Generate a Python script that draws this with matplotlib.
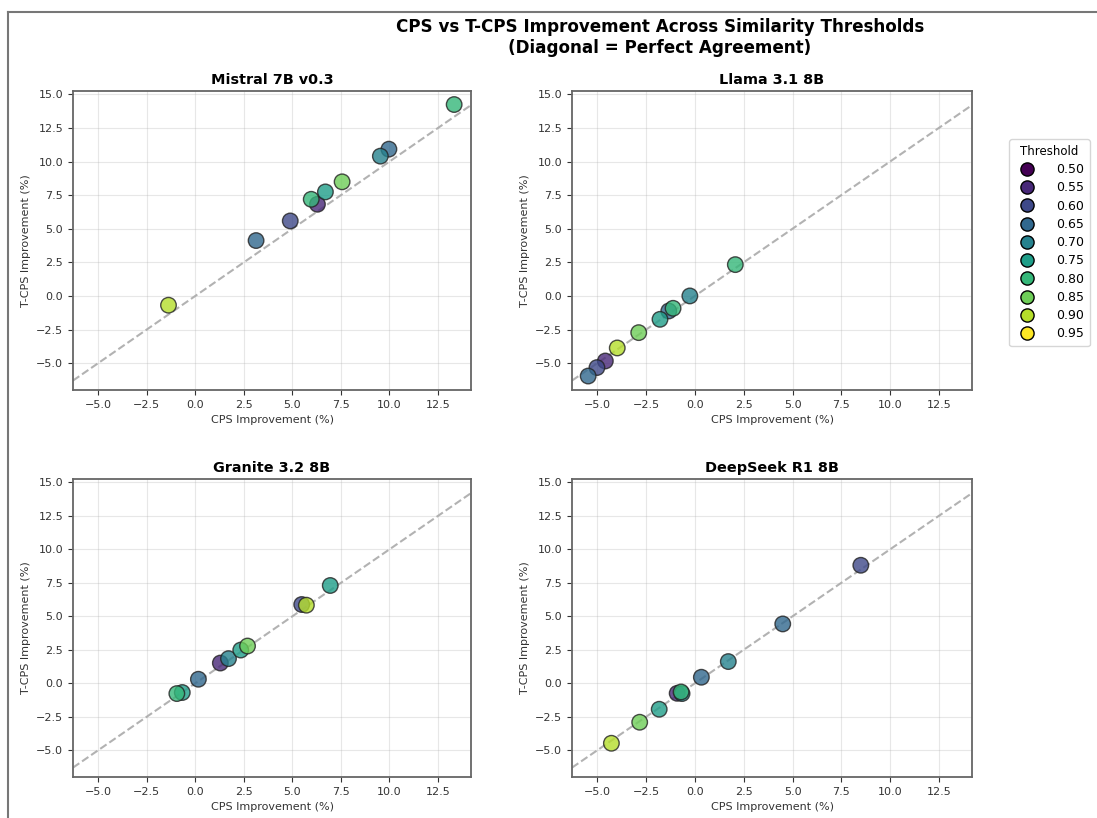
import numpy as np
import matplotlib
matplotlib.use("Agg")
import matplotlib.pyplot as plt
from matplotlib.lines import Line2D

# Umbrales de similitud (leyenda)
thresholds = [0.50, 0.55, 0.60, 0.65, 0.70, 0.75, 0.80, 0.85, 0.90, 0.95]

# Datos: mejora CPS (x), mejora T-CPS (y), umbral
mistral_cps = [6.29, 4.89, 3.13, 9.97, 9.53, 6.70, 13.33, 5.97, 7.56, -1.38]
mistral_tcps = [6.82, 5.58, 4.12, 10.92, 10.40, 7.74, 14.24, 7.19, 8.49, -0.69]
mistral_thr = [0.55, 0.60, 0.65, 0.65, 0.70, 0.75, 0.80, 0.80, 0.85, 0.90]

llama_cps = [-4.59, -5.02, -5.47, -1.34, -0.26, -1.79, -1.12, 2.07, -2.88, -3.98]
llama_tcps = [-4.84, -5.33, -5.96, -1.12, 0.00, -1.74, -0.92, 2.33, -2.73, -3.87]
llama_thr = [0.55, 0.60, 0.65, 0.65, 0.70, 0.75, 0.80, 0.80, 0.85, 0.90]

granite_cps = [1.29, 5.48, 0.16, 1.71, 2.34, 6.95, -0.67, -0.95, 2.69, 5.72]
granite_tcps = [1.51, 5.88, 0.30, 1.84, 2.48, 7.30, -0.69, -0.77, 2.78, 5.83]
granite_thr = [0.55, 0.60, 0.65, 0.70, 0.75, 0.75, 0.75, 0.80, 0.85, 0.90]

deepseek_cps = [-0.91, 8.50, 4.50, 0.33, 1.71, -0.66, -1.83, -0.71, -2.83, -4.28]
deepseek_tcps = [-0.75, 8.81, 4.43, 0.45, 1.62, -0.77, -1.94, -0.65, -2.91, -4.48]
deepseek_thr = [0.55, 0.60, 0.65, 0.65, 0.70, 0.70, 0.75, 0.80, 0.85, 0.90]

modelos = [
    ("Mistral 7B v0.3", mistral_cps, mistral_tcps, mistral_thr),
    ("Llama 3.1 8B", llama_cps, llama_tcps, llama_thr),
    ("Granite 3.2 8B", granite_cps, granite_tcps, granite_thr),
    ("DeepSeek R1 8B", deepseek_cps, deepseek_tcps, deepseek_thr),
]

lim_x = (-6.3, 14.2)
lim_y = (-7.0, 15.25)

cmap = plt.cm.viridis
norm = plt.Normalize(min(thresholds), max(thresholds))

fig = plt.figure(figsize=(10.97, 8.18), dpi=100)

# Posiciones de los ejes (fracciones de la figura)
posiciones = [
    [0.0665, 0.5232, 0.3629, 0.3656],
    [0.5214, 0.5232, 0.3647, 0.3656],
    [0.0665, 0.0501, 0.3629, 0.3643],
    [0.5214, 0.0501, 0.3647, 0.3643],
]

for (nombre, cps, tcps, thr), pos in zip(modelos, posiciones):
    ax = fig.add_axes(pos)
    ax.plot(lim_x, lim_x, linestyle="--", color="gray", alpha=0.6, lw=1.5, zorder=1)
    ax.scatter(cps, tcps, c=[cmap(norm(t)) for t in thr], s=125, alpha=0.8,
               edgecolors="#222222", linewidths=1.0, zorder=3)
    ax.set_xlim(lim_x)
    ax.set_ylim(lim_y)
    ax.set_xticks(np.arange(-5, 12.6, 2.5))
    ax.set_yticks(np.arange(-5, 15.1, 2.5))
    ax.tick_params(labelsize=8, colors="#333333")
    ax.grid(True, alpha=0.3)
    for sp in ax.spines.values():
        sp.set_color("#666666")
        sp.set_linewidth(1.3)
    ax.set_xlabel("CPS Improvement (%)", fontsize=8, color="#333333")
    ax.set_ylabel("T-CPS Improvement (%)", fontsize=8, color="#333333")
    ax.set_title(nombre, fontsize=10.4, fontweight="bold", pad=5)

# Leyenda de umbrales
handles = [Line2D([0], [0], marker="o", linestyle="", markersize=9.5,
                  markerfacecolor=cmap(norm(t)), markeredgecolor="black",
                  markeredgewidth=1.0, label=f"{t:.2f}") for t in thresholds]
fig.legend(handles=handles, title="Threshold", loc="upper left",
           bbox_to_anchor=(1003 / 1097, 1 - 133 / 818), fontsize=9,
           title_fontsize=8.5, frameon=True, labelspacing=0.42,
           handletextpad=1.3, borderpad=0.45)

fig.suptitle("CPS vs T-CPS Improvement Across Similarity Thresholds\n(Diagonal = Perfect Agreement)",
             x=0.6016, y=0.978, fontsize=12.1, fontweight="bold", va="top")

# Marco exterior (borde superior e izquierdo)
fig.add_artist(Line2D([8 / 1097, 8 / 1097], [0, 1 - 12 / 818], color="#777777", lw=1.5))
fig.add_artist(Line2D([8 / 1097, 1], [1 - 12 / 818, 1 - 12 / 818], color="#777777", lw=1.5))

fig.savefig("out.png", dpi=100)
